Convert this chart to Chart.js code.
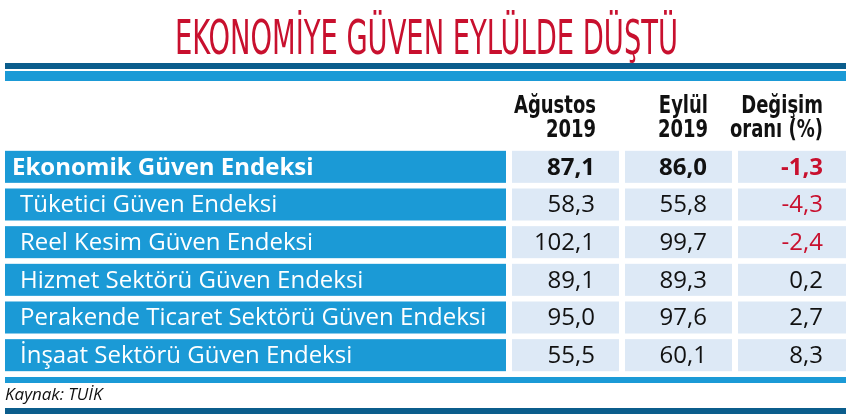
<!DOCTYPE html>
<html>
<head>
<meta charset="utf-8">
<script src="https://cdn.jsdelivr.net/npm/chart.js@4.4.1/dist/chart.umd.min.js"></script>
<style>
  html, body { margin: 0; padding: 0; background: #fff; }
  #wrap { width: 851px; height: 418px; position: relative; }
</style>
</head>
<body>
<div id="wrap"><canvas id="tbl"></canvas></div>
<script>
// --- Data ---
const title = 'EKONOMİYE GÜVEN EYLÜLDE DÜŞTÜ';
const rows = [
  'Ekonomik Güven Endeksi',
  'Tüketici Güven Endeksi',
  'Reel Kesim Güven Endeksi',
  'Hizmet Sektörü Güven Endeksi',
  'Perakende Ticaret Sektörü Güven Endeksi',
  'İnşaat Sektörü Güven Endeksi'
];
const columnHeads = [['Ağustos', '2019'], ['Eylül', '2019'], ['Değişim', 'oranı (%)']];
const august2019 = [87.1, 58.3, 102.1, 89.1, 95.0, 55.5];
const september2019 = [86.0, 55.8, 99.7, 89.3, 97.6, 60.1];
const changePct = [-1.3, -4.3, -2.4, 0.2, 2.7, 8.3];
const source = 'Kaynak: TUİK';

const BLUE = '#1b9ad6', DARK = '#0b5d8c', CELL = '#dde9f6', RED = '#c8102e';
const narrow = '"Liberation Sans Narrow", "DejaVu Sans Condensed", sans-serif';
const body = '"Open Sans", "Noto Sans", sans-serif';
const fmt = v => v.toFixed(1).replace('.', ',');

// column edges in pixels: [left, right]
const cols = [[5, 506], [512, 619], [625, 732], [738, 846]];

const tablePlugin = {
  id: 'table',
  beforeDatasetsDraw(chart) {
    const ctx = chart.ctx, y = chart.scales.y;
    const band = y.getPixelForValue(1) - y.getPixelForValue(0);
    const h = band * 0.85;
    ctx.save();
    // bands
    ctx.fillStyle = DARK; ctx.fillRect(5, 63, 841, 6);
    ctx.fillStyle = BLUE; ctx.fillRect(5, 71, 841, 10);
    ctx.fillStyle = BLUE; ctx.fillRect(5, 377, 841, 6);
    ctx.fillStyle = DARK; ctx.fillRect(5, 408, 841, 6);

    // title, squeezed to the reference width
    ctx.font = '48px ' + narrow;
    ctx.fillStyle = RED;
    ctx.textBaseline = 'alphabetic';
    const tw = ctx.measureText(title).width;
    ctx.save();
    ctx.translate(175, 54);
    ctx.scale(503 / tw, 1);
    ctx.fillText(title, 0, 0);
    ctx.restore();

    // column heads
    ctx.fillStyle = '#111';
    ctx.textAlign = 'right';
    const headRight = [596, 708, 823];
    columnHeads.forEach((lines, i) => {
      lines.forEach((t, j) => {
        ctx.font = 'bold 25px ' + narrow;
        ctx.save();
        ctx.translate(headRight[i], 113 + j * 24);
        ctx.scale(0.8, 1);
        ctx.fillText(t, 0, 0);
        ctx.restore();
      });
    });

    // rows
    const valueRight = [595, 707, 823];
    rows.forEach((name, i) => {
      const cy = y.getPixelForValue(i);
      const top = cy - h / 2;
      ctx.fillStyle = BLUE;
      ctx.fillRect(cols[0][0], top, cols[0][1] - cols[0][0], h);
      for (let c = 1; c < 4; c++) {
        ctx.fillStyle = CELL;
        ctx.fillRect(cols[c][0], top, cols[c][1] - cols[c][0], h);
      }
      const bold = i === 0;
      ctx.textBaseline = 'middle';
      ctx.textAlign = 'left';
      ctx.fillStyle = '#fff';
      ctx.font = (bold ? 'bold ' : '') + '24px ' + body;
      const x0 = bold ? 12 : 20;
      const maxW = bold ? 293 : 477;
      const nw = ctx.measureText(name).width;
      ctx.fillText(name, x0, cy + 1, Math.min(nw, bold ? nw : 477));
      ctx.textAlign = 'right';
      ctx.font = (bold ? 'bold ' : '') + '24px ' + body;
      [august2019[i], september2019[i], changePct[i]].forEach((v, c) => {
        ctx.fillStyle = (c === 2 && v < 0) ? RED : '#111';
        ctx.fillText(fmt(v), valueRight[c], cy + 1);
      });
    });

    ctx.textAlign = 'left';
    ctx.textBaseline = 'alphabetic';
    ctx.fillStyle = '#111';
    ctx.font = 'italic 17px ' + body;
    ctx.fillText(source, 5, 400);
    ctx.restore();
  }
};

new Chart(document.getElementById('tbl'), {
  type: 'bar',
  data: {
    labels: rows,
    datasets: [
      { label: 'Ağustos 2019', data: august2019, backgroundColor: 'rgba(0,0,0,0)' },
      { label: 'Eylül 2019', data: september2019, backgroundColor: 'rgba(0,0,0,0)' },
      { label: 'Değişim oranı (%)', data: changePct, backgroundColor: 'rgba(0,0,0,0)' }
    ]
  },
  options: {
    indexAxis: 'y',
    responsive: true,
    maintainAspectRatio: false,
    animation: false,
    layout: { padding: { top: 148, bottom: 44, left: 0, right: 0 } },
    plugins: { legend: { display: false }, tooltip: { enabled: false } },
    scales: {
      y: { display: false, grid: { display: false } },
      x: { display: false, grid: { display: false } }
    }
  },
  plugins: [tablePlugin]
});
</script>
</body>
</html>
